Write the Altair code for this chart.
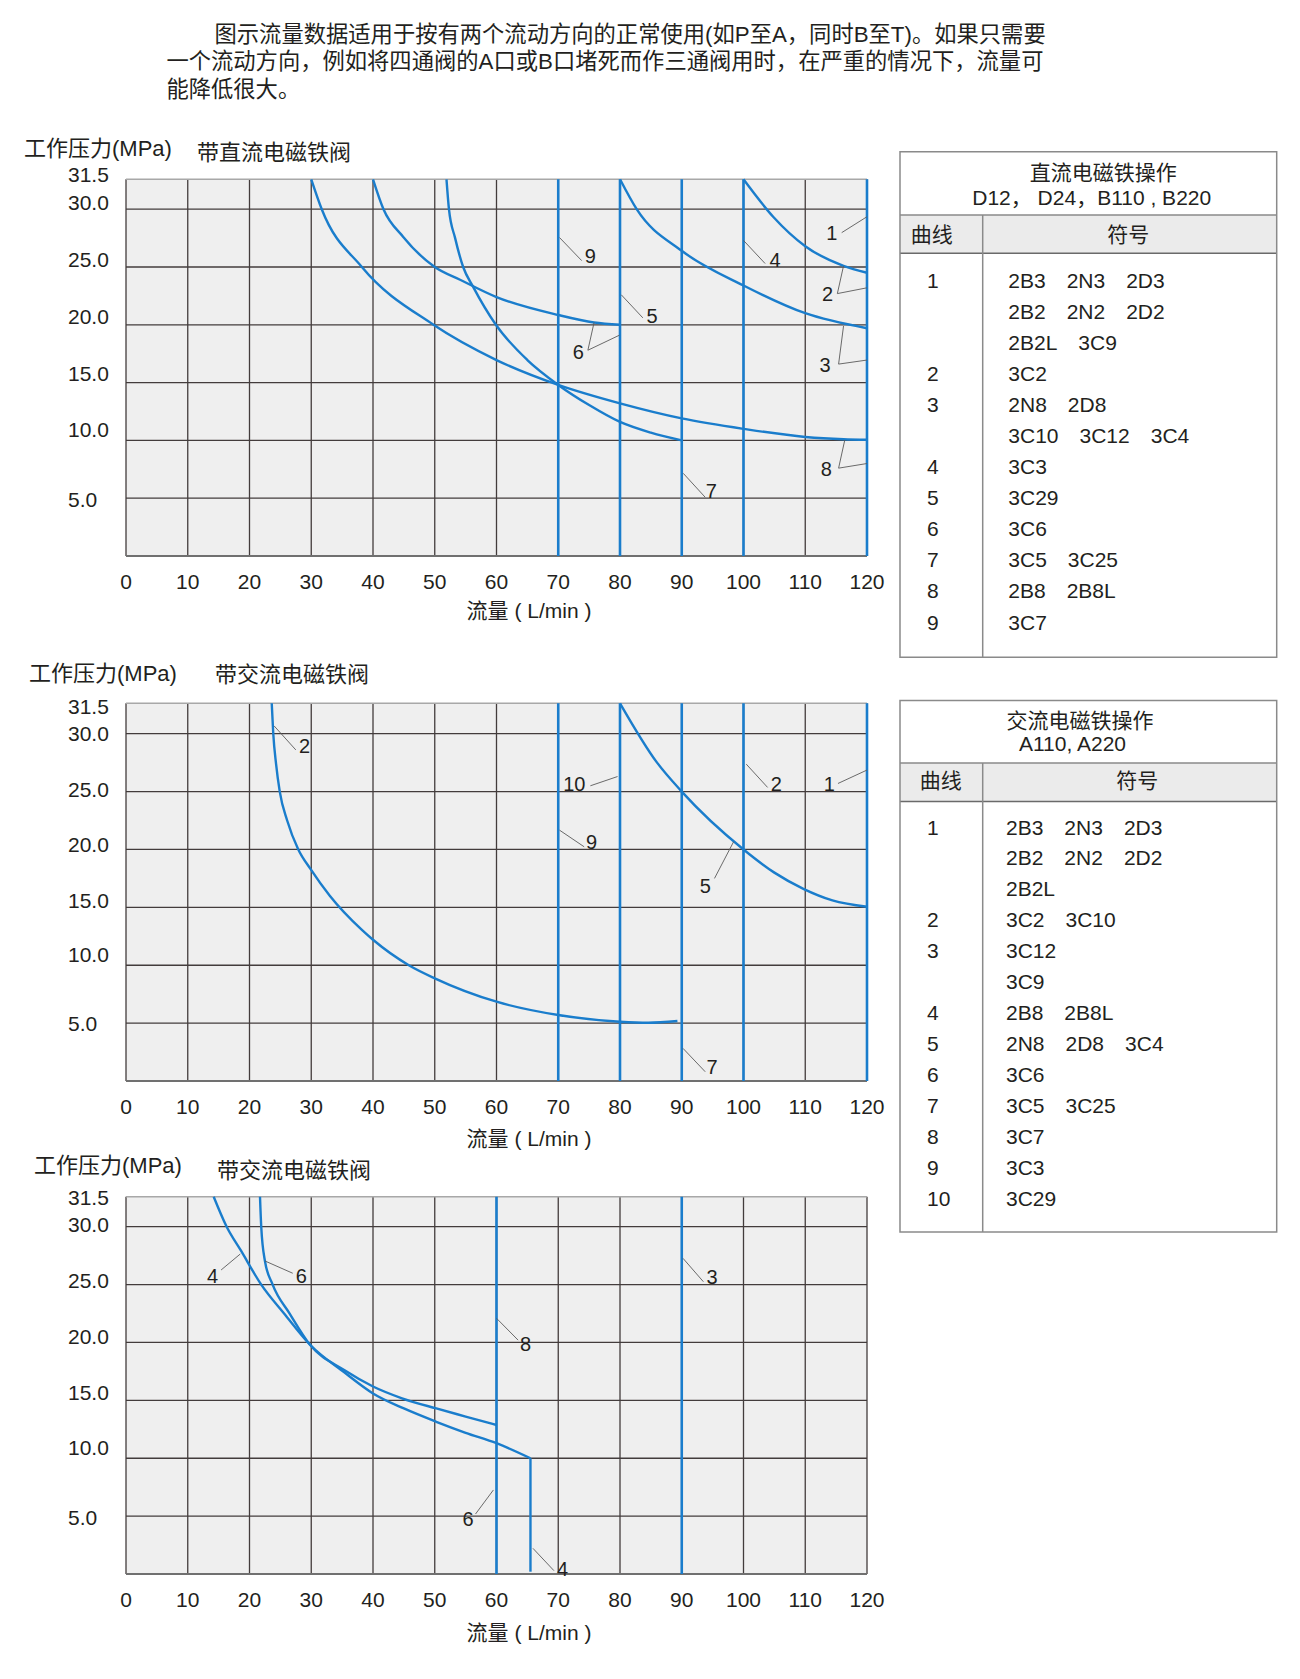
import altair as alt
import pandas as pd

# ----------------------------------------------------------------- data
HEADER_FIRST = "图示流量数据适用于按有两个流动方向的正常使用(如P至A，同时B至T)。如果只需要"
HEADER_REST = [
    "一个流动方向，例如将四通阀的A口或B口堵死而作三通阀用时，在严重的情况下，流量可",
    "能降低很大。",
]
Y_TITLE = "工作压力(MPa)"
X_TITLE = "流量 ( L/min )"
SUBTITLES = ["带直流电磁铁阀", "带交流电磁铁阀", "带交流电磁铁阀"]

X_TICKS = [0, 10, 20, 30, 40, 50, 60, 70, 80, 90, 100, 110, 120]
Y_GRID = [5, 10, 15, 20, 25, 30]
Y_LABELS = [5, 10, 15, 20, 25, 30, 31.5]

# ---- chart 1 (DC)
P1_VERT = [70, 80, 90, 100, 120]
P1_CURVES = {
    "a": ([100, 104.8, 110, 116.2, 120], [31.5, 29.35, 26.8, 25.1, 24.5]),
    "b": ([80, 82.7, 90, 100, 110, 120], [31.5, 30, 26.4, 23.4, 21.0, 19.7]),
    "c": ([40, 41.7, 44.9, 50, 54.1, 60, 70, 75.8, 80], [31.5, 30, 27.6, 25, 23.9, 22.4, 20.85, 20.2, 20.0]),
    "d": ([51.9, 52.3, 53.3, 54.6, 56.2, 59.9, 65, 70, 75, 80, 85, 90],
          [31.5, 30, 27.5, 25, 23.3, 20.0, 16.95, 14.8, 13.06, 11.6, 10.67, 10.0]),
    "e": ([30, 31.7, 38.2, 49.8, 60, 70, 80, 90, 100, 110, 116.2, 120],
          [31.5, 30, 25, 20, 16.95, 14.8, 13.2, 11.9, 11.0, 10.3, 10.1, 10.05]),
}
P1_LABEL_TEXT = ["1", "2", "3", "4", "5", "6", "7", "8", "9"]
P1_LABEL_X = [114.3, 113.6, 113.2, 105.1, 85.2, 73.25, 94.8, 113.4, 75.2]
P1_LABEL_Y = [27.85, 22.6, 16.4, 25.5, 20.65, 17.6, 5.56, 7.44, 25.9]
P1_LEAD_X = [115.9, 115.2, 115.2, 115.4, 115.4, 100, 80.2, 74.8, 74.8, 90.25, 115.4, 115.4, 70.2]
P1_LEAD_Y = [27.97, 22.7, 22.7, 16.6, 16.6, 27.3, 22.6, 17.8, 17.8, 7.15, 7.6, 7.6, 27.55]
P1_LEAD_X2 = [120, 116.2, 120, 116.2, 120, 103.5, 83.7, 75.8, 79.9, 93.8, 116.4, 120, 73.8]
P1_LEAD_Y2 = [29.35, 25.1, 23.2, 19.9, 16.95, 25.3, 20.6, 20.2, 19.1, 5.08, 10.03, 8.0, 25.55]

# ---- chart 2 (AC)
P2_VERT = [70, 80, 90, 100, 120]
P2_CURVES = {
    "a": ([23.6, 23.85, 24.3, 24.9, 26.1, 27.9, 29.9, 33, 38.2, 40, 45.8, 50, 60, 70, 80, 84.6, 89.3],
          [31.5, 30, 27.4, 25, 22.5, 20, 18.3, 16.0, 13.05, 12.2, 10, 8.87, 6.85, 5.7, 5.12, 5.03, 5.18]),
    "b": ([80, 86, 90, 100, 105, 109.7, 114.4, 120],
          [31.5, 27.5, 25, 20, 18.0, 16.6, 15.6, 15.05]),
}
P2_LABEL_TEXT = ["2", "10", "9", "2", "1", "5", "7"]
P2_LABEL_X = [28.9, 72.6, 75.4, 105.3, 113.9, 93.8, 94.9]
P2_LABEL_Y = [28.87, 25.55, 20.6, 25.55, 25.55, 16.8, 1.1]
P2_LEAD_X = [24.0, 75.2, 70.2, 100.45, 115.3, 95.3, 90.2]
P2_LEAD_Y = [30.38, 25.5, 21.67, 27.37, 25.7, 17.5, 2.82]
P2_LEAD_X2 = [27.5, 79.6, 74.2, 103.9, 120, 98.4, 93.8]
P2_LEAD_Y2 = [28.6, 26.3, 20.23, 25.36, 26.86, 20.67, 0.8]

# ---- chart 3 (AC)
P3_VERT = [60, 90]
P3_CURVES = {
    "4": ([14.2, 16.3, 18.6, 21.9, 25.6, 29.8, 35.4, 40, 45, 50.25, 55, 60, 65.5],
          [31.5, 30, 27.95, 25, 22.5, 19.8, 17.4, 15.6, 14.3, 13.15, 12.2, 11.3, 10.0]),
    "6": ([21.7, 21.9, 22.5, 23.75, 26.5, 29.8, 35.4, 40, 44.7, 50.25, 55, 60],
          [31.5, 30, 27.04, 25, 22.5, 19.8, 17.6, 16.2, 15.18, 14.3, 13.6, 12.87]),
}
P3_TAIL_X = [65.5]
P3_TAIL_Y0 = [0.2]
P3_TAIL_Y1 = [10.0]
P3_LABEL_TEXT = ["4", "6", "8", "3", "6", "4"]
P3_LABEL_X = [14.0, 28.4, 64.7, 94.9, 55.4, 70.7]
P3_LABEL_Y = [25.63, 25.63, 19.78, 25.54, 4.66, 0.35]
P3_LEAD_X = [15.4, 27.0, 60.0, 90.2, 56.6, 69.3]
P3_LEAD_Y = [26.26, 25.98, 22.09, 27.27, 5.18, 0.29]
P3_LEAD_X2 = [18.5, 22.5, 63.5, 93.5, 59.5, 65.9]
P3_LEAD_Y2 = [27.64, 27.04, 20.2, 25.25, 7.26, 2.22]

# ---- tables
T1_TITLE = ["直流电磁铁操作", "D12， D24，B110 , B220"]
T1_NUM = ["1", "", "", "2", "3", "", "4", "5", "6", "7", "8", "9"]
T1_SYM = ["2B3  2N3  2D3", "2B2  2N2  2D2", "2B2L  3C9", "3C2", "2N8  2D8",
          "3C10  3C12  3C4", "3C3", "3C29", "3C6", "3C5  3C25", "2B8  2B8L", "3C7"]
T2_TITLE = ["交流电磁铁操作", "A110, A220"]
T2_NUM = ["1", "", "", "2", "3", "", "4", "5", "6", "7", "8", "9", "10"]
T2_SYM = ["2B3  2N3  2D3", "2B2  2N2  2D2", "2B2L", "3C2  3C10", "3C12", "3C9",
          "2B8  2B8L", "2N8  2D8  3C4", "3C6", "3C5  3C25", "3C7", "3C3", "3C29"]
T_HEAD = ["曲线", "符号"]

# ----------------------------------------------------------------- style / layout
FONT = "Liberation Sans, Noto Sans CJK SC, sans-serif"
BLUE = "#1a7dcc"
GRID = "#433c3c"
TXT = "#231f20"
LEAD = "#5a5a5a"
TBL = "#8a8a8a"
W, H = 1284, 1663
X_LEFT, X_RIGHT = 118, 859
YLAB_X = 60          # left edge of the y tick labels
XLAB_DY = 27         # x tick labels below the plot bottom
XTITLE_X = 521

# vertical nudges (px) of the y tick labels, keyed by label order in Y_LABELS
PLOTS = [
    dict(yr=[548, 201.2, 171.3], yl_dy=[3, -9, -8, -7.2, -6.3, -5.5, -3],
         yt=(16, 141), xt_y=604, sub=(189, 145)),
    dict(yr=[1073, 725.7, 695.3], yl_dy=[2, -8.8, -5.8, -3, -0.7, 1.5, 4.7],
         yt=(21, 666), xt_y=1132, sub=(207, 667)),
    dict(yr=[1566, 1218.7, 1188.7], yl_dy=[3.2, -9.2, -6, -4, -2.2, -0.3, 2],
         yt=(26, 1158), xt_y=1626, sub=(209, 1163)),
]

one = pd.DataFrame({"k": [0]})


def curves_df(curves):
    rows = []
    for cid, (xs, ys) in curves.items():
        for i, (a, b) in enumerate(zip(xs, ys)):
            rows.append({"id": cid, "i": i, "x": a, "y": b})
    return pd.DataFrame(rows)


def static_text(s, x, y, size, align="left"):
    return alt.Chart(pd.DataFrame({"t": [s]})).mark_text(
        font=FONT, fontSize=size, color=TXT, align=align, baseline="middle").encode(
        x=alt.value(x), y=alt.value(y), text="t:N")


def plot_layer(cfg, vert, curves, lab_t, lab_x, lab_y, lx, ly, lx2, ly2, subtitle,
               tails=None):
    xs = alt.Scale(domain=[0, 120], range=[X_LEFT, X_RIGHT], nice=False, zero=False)
    ys = alt.Scale(domain=[0, 30, 31.5], range=cfg["yr"], nice=False, zero=False)

    def X(f):
        return alt.X(f, type="quantitative", scale=xs, axis=None)

    def Y(f):
        return alt.Y(f, type="quantitative", scale=ys, axis=None)

    bg = alt.Chart(pd.DataFrame({"x0": [0], "x1": [120], "y0": [0], "y1": [31.5]})).mark_rect(
        fill="#efefef").encode(x=X("x0"), x2="x1", y=Y("y0"), y2="y1")
    hgrid = alt.Chart(pd.DataFrame({"y": Y_GRID, "x0": 0, "x1": 120})).mark_rule(
        color=GRID, strokeWidth=1.3).encode(x=X("x0"), x2="x1", y=Y("y"))
    vgrid = alt.Chart(pd.DataFrame({"x": X_TICKS, "y0": 0, "y1": 31.5})).mark_rule(
        color=GRID, strokeWidth=1.3).encode(x=X("x"), y=Y("y0"), y2="y1")
    top = alt.Chart(pd.DataFrame({"y": [31.5], "x0": [0], "x1": [120]})).mark_rule(
        color="#a8a8a8", strokeWidth=1.5).encode(x=X("x0"), x2="x1", y=Y("y"))
    bottom = alt.Chart(pd.DataFrame({"y": [0], "x0": [0], "x1": [120]})).mark_rule(
        color="#707070", strokeWidth=2).encode(x=X("x0"), x2="x1", y=Y("y"))
    verts = alt.Chart(pd.DataFrame({"x": vert, "y0": 0, "y1": 31.5})).mark_rule(
        color=BLUE, strokeWidth=2.6).encode(x=X("x"), y=Y("y0"), y2="y1")
    lines = alt.Chart(curves_df(curves)).mark_line(
        color=BLUE, strokeWidth=2.4, interpolate="monotone").encode(
        x=X("x"), y=Y("y"), detail="id:N", order="i:Q")
    leads = alt.Chart(pd.DataFrame({"x": lx, "y": ly, "x2": lx2, "y2": ly2})).mark_rule(
        color=LEAD, strokeWidth=0.9).encode(x=X("x"), y=Y("y"), x2="x2", y2="y2")
    labs = alt.Chart(pd.DataFrame({"t": lab_t, "x": lab_x, "y": lab_y})).mark_text(
        font=FONT, fontSize=20, color=TXT, align="center", baseline="middle").encode(
        x=X("x"), y=Y("y"), text="t:N")

    # tick labels, drawn through the same scales
    xt = alt.Chart(pd.DataFrame({"x": X_TICKS, "y": 0})).mark_text(
        font=FONT, fontSize=21, color=TXT, align="center", baseline="middle",
        dy=XLAB_DY).encode(x=X("x"), y=Y("y"), text=alt.Text("x:Q", format="d"))
    ydf = pd.DataFrame({"v": Y_LABELS})
    ylabs = []
    for v, d in zip(Y_LABELS, cfg["yl_dy"]):
        ylabs.append(alt.Chart(ydf).transform_filter(f"datum.v == {v}").mark_text(
            font=FONT, fontSize=21, color=TXT, align="left", baseline="middle",
            dy=d).encode(x=alt.value(YLAB_X), y=Y("v"),
                         text=alt.Text("v:Q", format=".1f")))

    ytitle = static_text(Y_TITLE, cfg["yt"][0], cfg["yt"][1], 22)
    xtitle = static_text(X_TITLE, XTITLE_X, cfg["xt_y"], 21, align="center")
    sub = static_text(subtitle, cfg["sub"][0], cfg["sub"][1], 22)

    layers = [bg, hgrid, vgrid, top, bottom, verts, lines]
    if tails is not None:
        tx, ty0, ty1 = tails
        layers.append(alt.Chart(pd.DataFrame({"x": tx, "y0": ty0, "y1": ty1})).mark_rule(
            color=BLUE, strokeWidth=2.4).encode(x=X("x"), y=Y("y0"), y2="y1"))
    layers += [leads, labs, xt] + ylabs + [ytitle, xtitle, sub]
    return alt.layer(*layers)


def table_layer(title, nums, syms, box, hdr_top, hdr_bot, col_x, t1_xy, t2_xy,
                h1_xy, h2_xy, rows_rng, num_x, sym_x):
    L, T, R, B = box
    n = len(syms)
    df = pd.DataFrame({"row": list(range(n)), "num": nums,
                       "sym": [s.replace("  ", "\u2002\u2002") for s in syms]})
    ysc = alt.Scale(domain=[0, n - 1], range=rows_rng, nice=False, zero=False)
    txt = dict(font=FONT, fontSize=21, color=TXT, baseline="middle")
    fill = alt.Chart(one).mark_rect(fill="white").encode(
        x=alt.value(L), x2=alt.value(R), y=alt.value(T), y2=alt.value(B))
    band = alt.Chart(one).mark_rect(fill="#ebebeb").encode(
        x=alt.value(L), x2=alt.value(R), y=alt.value(hdr_top), y2=alt.value(hdr_bot))
    l1 = alt.Chart(one).mark_rule(color=TBL, strokeWidth=1.5).encode(
        x=alt.value(L), x2=alt.value(R), y=alt.value(hdr_top))
    l2 = alt.Chart(one).mark_rule(color="#6a6a6a", strokeWidth=1.6).encode(
        x=alt.value(L), x2=alt.value(R), y=alt.value(hdr_bot))
    vl = alt.Chart(one).mark_rule(color=TBL, strokeWidth=1.5).encode(
        x=alt.value(col_x), y=alt.value(hdr_top), y2=alt.value(B))
    border = alt.Chart(one).mark_rect(fillOpacity=0, stroke=TBL, strokeWidth=1.5).encode(
        x=alt.value(L), x2=alt.value(R), y=alt.value(T), y2=alt.value(B))
    heads = [static_text(s, x, y, 21, align="center")
             for s, (x, y) in zip(list(title) + list(T_HEAD), [t1_xy, t2_xy, h1_xy, h2_xy])]
    num_t = alt.Chart(df).mark_text(align="left", **txt).encode(
        x=alt.value(num_x), y=alt.Y("row:Q", scale=ysc, axis=None), text="num:N")
    sym_t = alt.Chart(df).mark_text(align="left", **txt).encode(
        x=alt.value(sym_x), y=alt.Y("row:Q", scale=ysc, axis=None), text="sym:N")
    return alt.layer(fill, band, l1, l2, vl, border, *heads, num_t, sym_t)


p1 = plot_layer(PLOTS[0], P1_VERT, P1_CURVES, P1_LABEL_TEXT, P1_LABEL_X, P1_LABEL_Y,
                P1_LEAD_X, P1_LEAD_Y, P1_LEAD_X2, P1_LEAD_Y2, SUBTITLES[0])
p2 = plot_layer(PLOTS[1], P2_VERT, P2_CURVES, P2_LABEL_TEXT, P2_LABEL_X, P2_LABEL_Y,
                P2_LEAD_X, P2_LEAD_Y, P2_LEAD_X2, P2_LEAD_Y2, SUBTITLES[1])
p3 = plot_layer(PLOTS[2], P3_VERT, P3_CURVES, P3_LABEL_TEXT, P3_LABEL_X, P3_LABEL_Y,
                P3_LEAD_X, P3_LEAD_Y, P3_LEAD_X2, P3_LEAD_Y2, SUBTITLES[2],
                tails=(P3_TAIL_X, P3_TAIL_Y0, P3_TAIL_Y1))

t1 = table_layer(T1_TITLE, T1_NUM, T1_SYM, (892, 143.8, 1268.7, 649.2), 207, 245.3, 974.7,
                 (1095.3, 165.8), (1083.7, 191.2), (923.7, 228.3), (1120.3, 228.3),
                 [274, 615.5], 919, 1000.3)
t2 = table_layer(T2_TITLE, T2_NUM, T2_SYM, (892, 692.5, 1268.7, 1223.9), 755, 793.5, 974.7,
                 (1072, 714.3), (1064.5, 737.4), (932.7, 773.9), (1129.3, 773.9),
                 [820.5, 1192], 919, 998)

hdr1 = static_text(HEADER_FIRST, 206.5, 27, 22.3)
hdr_rest = alt.Chart(pd.DataFrame({"line": [0, 1], "t": HEADER_REST})).mark_text(
    font=FONT, fontSize=22.3, color=TXT, align="left", baseline="middle").encode(
    x=alt.value(158.4),
    y=alt.Y("line:Q", scale=alt.Scale(domain=[0, 1], range=[53.7, 82], nice=False, zero=False),
            axis=None),
    text="t:N")

chart = alt.layer(p1, p2, p3, t1, t2, hdr1, hdr_rest).resolve_scale(
    x="independent", y="independent").properties(
    width=W, height=H, autosize=alt.AutoSizeParams(type="none"), padding=0,
    background="white").configure_view(stroke=None)

chart.save("out.html", embed_options={"renderer": "svg", "actions": False})
